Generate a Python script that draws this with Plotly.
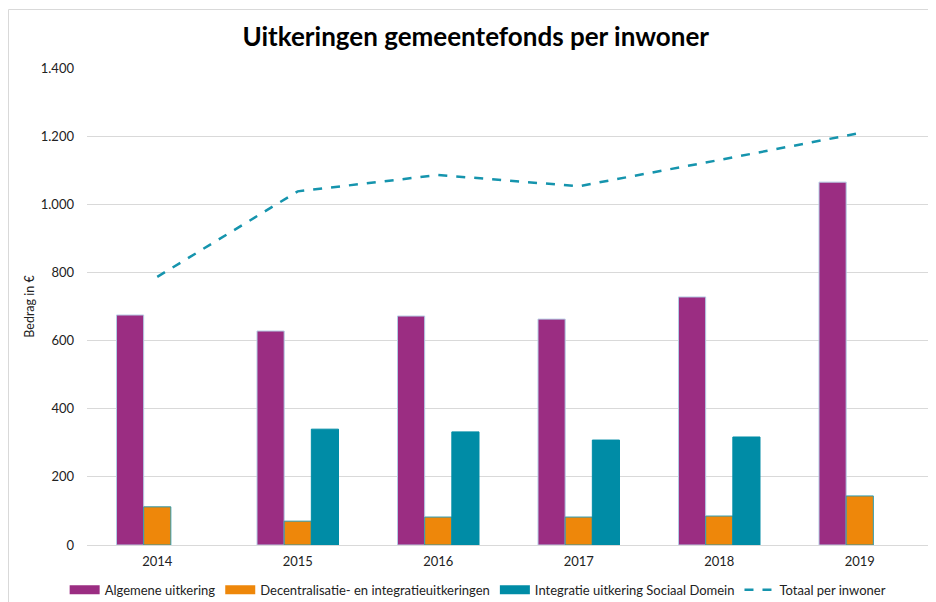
import plotly.graph_objects as go

jaren = ["2014", "2015", "2016", "2017", "2018", "2019"]
algemene_uitkering = [675, 628, 672, 663, 728, 1065]
decentralisatie = [112, 70, 82, 82, 85, 144]
sociaal_domein = [None, 340, 332, 308, 317, None]
totaal = [787, 1038, 1086, 1053, 1130, 1209]
y_ticks = [0, 200, 400, 600, 800, 1000, 1200, 1400]
y_labels = ["0", "200", "400", "600", "800", "1.000", "1.200", "1.400"]

font_fam = "Lato, Open Sans, sans-serif"
kleuren = {"alg": "#9B2D82", "dec": "#EE870A", "isd": "#008CA6", "tot": "#1594AD"}

fig = go.Figure()
fig.add_trace(go.Bar(x=jaren, y=algemene_uitkering, name="Algemene uitkering", showlegend=False,
                     marker=dict(color=kleuren["alg"], line=dict(color="#B4CCE4", width=1))))
fig.add_trace(go.Bar(x=jaren, y=decentralisatie, name="Decentralisatie- en integratieuitkeringen",
                     showlegend=False,
                     marker=dict(color=kleuren["dec"], line=dict(color="#2B9AAE", width=1))))
fig.add_trace(go.Bar(x=jaren, y=sociaal_domein, name="Integratie uitkering Sociaal Domein",
                     showlegend=False,
                     marker=dict(color=kleuren["isd"], line=dict(color=kleuren["isd"], width=1))))
fig.add_trace(go.Scatter(x=jaren, y=totaal, name="Totaal per inwoner", mode="lines", showlegend=False,
                         line=dict(color=kleuren["tot"], width=2.5, dash="dash")))

# legend entries: wide rectangles like the original (Excel style)
for naam, kleur, stijl in [("Algemene uitkering", kleuren["alg"], None),
                           ("Decentralisatie- en integratieuitkeringen", kleuren["dec"], None),
                           ("Integratie uitkering Sociaal Domein", kleuren["isd"], None),
                           ("Totaal per inwoner", kleuren["tot"], "dash")]:
    fig.add_trace(go.Scatter(x=[None], y=[None], mode="lines", name=naam,
                             line=dict(color=kleur, width=2.5 if stijl else 9, dash=stijl or "solid")))

# body of the page has an 8px margin, so the figure is 8px smaller
fig.update_layout(
    width=928, height=594,
    paper_bgcolor="white", plot_bgcolor="white",
    margin=dict(l=79, r=6, t=60, b=57, autoexpand=False),
    font=dict(family=font_fam, size=12, color="#222"),
    title=dict(text="<b>Uitkeringen gemeentefonds per inwoner</b>", x=0.504, xanchor="center",
               y=0.951, yanchor="middle", font=dict(size=26, color="black")),
    barmode="group", bargap=0.42, bargroupgap=0,
    legend=dict(orientation="h", x=0.464, xanchor="center", y=-0.094, yanchor="middle",
                font=dict(size=13), traceorder="normal", itemwidth=30, tracegroupgap=0),
    xaxis=dict(showgrid=False, showline=True, linecolor="#D9D9D9", ticks="",
               tickfont=dict(size=13), ticklabelstandoff=4),
    yaxis=dict(range=[0, 1400], tickvals=y_ticks, ticktext=y_labels, showgrid=True,
               gridcolor="#D9D9D9", zeroline=False, tickfont=dict(size=13),
               ticklabelstandoff=12, automargin=False,
               title=dict(text="Bedrag in €", font=dict(size=12.5), standoff=3)),
    shapes=[dict(type="rect", xref="paper", yref="paper", x0=-0.0931, x1=1.1, y0=-0.2, y1=1.1226,
                 line=dict(color="#D9D9D9", width=1))],
)

fig.write_html("out.html")
